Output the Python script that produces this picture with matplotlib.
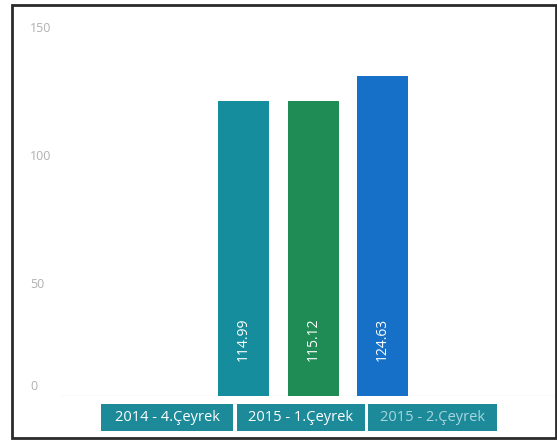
import matplotlib.pyplot as plt
from matplotlib.patches import Rectangle
import matplotlib.transforms as mtransforms

plt.rcParams['font.family'] = ['Open Sans', 'DejaVu Sans']

# 数据
periods = ['2014 - 4.Çeyrek', '2015 - 1.Çeyrek', '2015 - 2.Çeyrek']
values = [114.99, 115.12, 124.63]
bar_colors = ['#168d9c', '#1f8c55', '#1670c8']
y_ticks = [0, 50, 100, 150]

W, H = 557, 441
fig = plt.figure(figsize=(W / 100, H / 100), dpi=100)

# 坐标区（像素换算成比例）
ax_left, ax_right, ax_top, ax_bottom = 60, 555, 11, 396
ax = fig.add_axes([ax_left / W, (H - ax_bottom) / H,
                   (ax_right - ax_left) / W, (ax_bottom - ax_top) / H])

px_per_unit = 69.5
x0 = 243.5
ax.set_xlim((ax_left - x0) / px_per_unit, (ax_right - x0) / px_per_unit)
ax.set_ylim(0, 150)

xs = list(range(len(values)))
bars = ax.bar(xs, values, width=51 / px_per_unit, color=bar_colors, zorder=3)

# 柱内竖排数值
for x, v in zip(xs, values):
    ax.text(x, 22, f'{v:.2f}', rotation=90, ha='center', va='center',
            color='white', fontsize=10, zorder=4)

for s in ax.spines.values():
    s.set_visible(False)
ax.axhline(0, color='#e6e6e6', lw=1, zorder=2)
ax.set_xticks([])
ax.set_yticks(y_ticks)
ax.set_yticklabels([str(t) for t in y_ticks])
ax.tick_params(axis='y', length=0, labelsize=9, labelcolor='#b0b0b0', pad=0)

# 刻度标签位置微调
offsets = {0: 11, 50: -15, 100: -16, 150: -16}
for t, lab in zip(y_ticks, ax.get_yticklabels()):
    lab.set_horizontalalignment('left')
    lab.set_transform(lab.get_transform() + mtransforms.ScaledTranslation(
        -30 / 100, offsets[t] / 100, fig.dpi_scale_trans))

# 底部分类标签框
boxes = [(101, 233), (237, 365), (368, 497)]
text_cols = ['white', 'white', '#a9d6dd']
for (bx0, bx1), lab, tc in zip(boxes, periods, text_cols):
    fig.patches.append(Rectangle((bx0 / W, (H - 431) / H), (bx1 - bx0) / W, 27 / H,
                                 transform=fig.transFigure, facecolor='#1d8a9a',
                                 edgecolor='none'))
    fig.text((bx0 + bx1) / 2 / W, (H - 417.5) / H, lab, ha='center', va='center',
             color=tc, fontsize=10.5)

# 外框
fig.patches.append(Rectangle((12 / W, (H - 438) / H), (556 - 12) / W, (438 - 5) / H,
                             transform=fig.transFigure, facecolor='none',
                             edgecolor='#2a2a2a', lw=2))

plt.savefig('out.png', dpi=100)
